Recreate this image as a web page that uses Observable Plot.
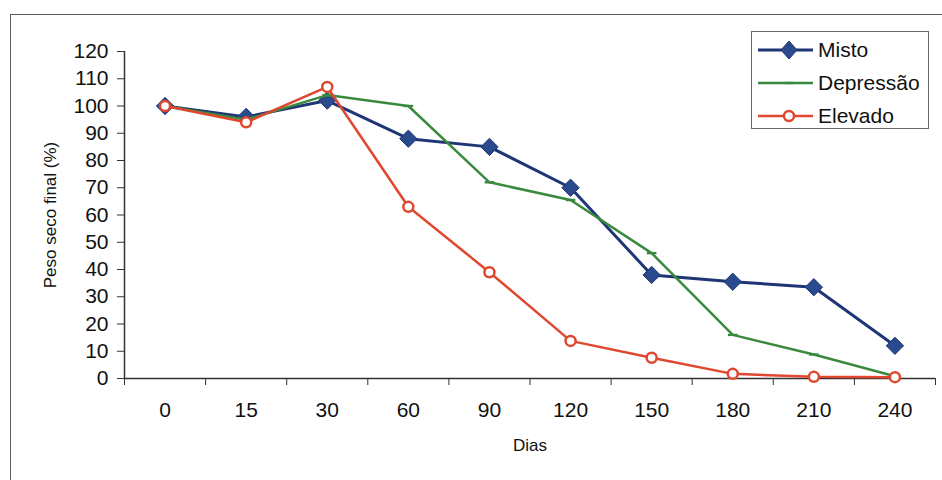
<!DOCTYPE html>
<html><head><meta charset="utf-8">
<script src="https://cdn.jsdelivr.net/npm/d3@7"></script>
<script src="https://cdn.jsdelivr.net/npm/@observablehq/plot@0.6"></script>
<style>
body{margin:0;background:#fff;font-family:"Liberation Sans",Arial,sans-serif}
#wrap{position:relative;width:942px;height:480px;overflow:hidden;background:#fff}
#frame{position:absolute;left:10px;top:14px;width:940px;height:480px;border:1.5px solid #5a5a5a;box-sizing:border-box;pointer-events:none}
#legend{position:absolute;left:751px;top:31px;width:178px;height:98px;border:1px solid #666;box-sizing:border-box;background:#fff}
.row{position:absolute;left:0;height:30px;width:176px}
.row svg{position:absolute;left:4px;top:0}
.row span{position:absolute;left:66px;top:3px;font-size:21px;color:#111;line-height:24px}
</style></head>
<body><div id="wrap"><div id="chart"></div><div id="frame"></div><div id="legend"></div></div>
<script>
const dias = ["0","15","30","60","90","120","150","180","210","240"];
const misto = [100, 96, 102, 88, 85, 70, 38, 35.5, 33.5, 12];
const depressao = [100, 95, 104, 100, 72, 65.5, 46, 16, 8.8, 0.8];
const elevado = [100, 94, 107, 63, 39, 13.8, 7.6, 1.7, 0.6, 0.5];
const yTicks = [0,10,20,30,40,50,60,70,80,90,100,110,120];
const seriesNames = ["Misto","Depressão","Elevado"];

const colors = {Misto:{line:"#1f3676", fill:"#2a4a8e"}, "Depressão":{line:"#3a8a3e"}, Elevado:{line:"#e0472f"}};

const toRows = (vals, name) => vals.map((v,i)=>({i, v, name}));
const dMisto = toRows(misto, "Misto");
const dDep = toRows(depressao, "Depressão");
const dElev = toRows(elevado, "Elevado");

const dash = {draw(ctx, size){ const w = Math.sqrt(size)*0.9, h = 1.2; ctx.moveTo(-w,-h); ctx.lineTo(w,-h); ctx.lineTo(w,h); ctx.lineTo(-w,h); ctx.closePath(); }};

const idx = dias.map((d,i)=>i);
const edges = d3.range(-0.5, dias.length, 1);

const chart = Plot.plot({
  width: 942, height: 480,
  marginLeft: 124, marginRight: 7, marginTop: 51, marginBottom: 102,
  style: {fontFamily: "Liberation Sans, Arial, sans-serif", background: "transparent", color: "#111"},
  x: {type: "linear", domain: [-0.5, dias.length - 0.5]},
  y: {domain: [0, 120]},
  marks: [
    Plot.axisY({ticks: yTicks, tickSize: 7, tickPadding: 9, fontSize: 21, label: null, stroke: "#333"}),
    Plot.axisX({ticks: edges, tickSize: 7, tickFormat: () => "", label: null, stroke: "#333"}),
    Plot.axisX({ticks: idx, tickSize: 0, tickPadding: 24, fontSize: 21, tickFormat: i => dias[i], label: null}),
    Plot.ruleX([-0.5], {stroke: "#333", strokeWidth: 1.5}),
    Plot.ruleY([0], {stroke: "#333", strokeWidth: 1.5}),
    Plot.text(["Peso seco final (%)"], {frameAnchor: "left", textAnchor: "middle", rotate: -90, dx: -74, fontSize: 17, fill: "#111"}),
    Plot.text(["Dias"], {frameAnchor: "bottom", dy: 67, fontSize: 17, lineAnchor: "middle", fill: "#111"}),
    Plot.line(dMisto, {x: "i", y: "v", stroke: colors.Misto.line, strokeWidth: 3}),
    Plot.dot(dMisto, {x: "i", y: "v", symbol: "diamond2", r: 7.8, fill: colors.Misto.fill, stroke: colors.Misto.line, strokeWidth: 1}),
    Plot.line(dDep, {x: "i", y: "v", stroke: colors["Depressão"].line, strokeWidth: 2.5}),
    Plot.dot(dDep, {x: "i", y: "v", symbol: dash, r: 3, fill: colors["Depressão"].line, stroke: "none"}),
    Plot.line(dElev, {x: "i", y: "v", stroke: colors.Elevado.line, strokeWidth: 2.5}),
    Plot.dot(dElev, {x: "i", y: "v", symbol: "circle", r: 5, fill: "#fff", stroke: colors.Elevado.line, strokeWidth: 2.5})
  ]
});
document.getElementById("chart").appendChild(chart);

// legend
const legend = document.getElementById("legend");
const rowsY = [3, 36, 69];
seriesNames.forEach((name, k) => {
  const row = document.createElement("div");
  row.className = "row";
  row.style.top = rowsY[k] + "px";
  const c = colors[name].line;
  let marker = "";
  if (name === "Misto") marker = `<path d="M33,6 L41,15 L33,24 L25,15 Z" fill="${colors.Misto.fill}" stroke="${c}"/>`;
  else if (name === "Depressão") marker = `<rect x="29" y="13.8" width="8" height="2.4" fill="${c}"/>`;
  else marker = `<circle cx="33" cy="15" r="5" fill="#fff" stroke="${c}" stroke-width="2.5"/>`;
  row.innerHTML = `<svg width="62" height="30"><line x1="2" x2="57" y1="15" y2="15" stroke="${c}" stroke-width="${name==='Misto'?3:2.5}"/>${marker}</svg><span>${name}</span>`;
  legend.appendChild(row);
});
</script></body></html>
